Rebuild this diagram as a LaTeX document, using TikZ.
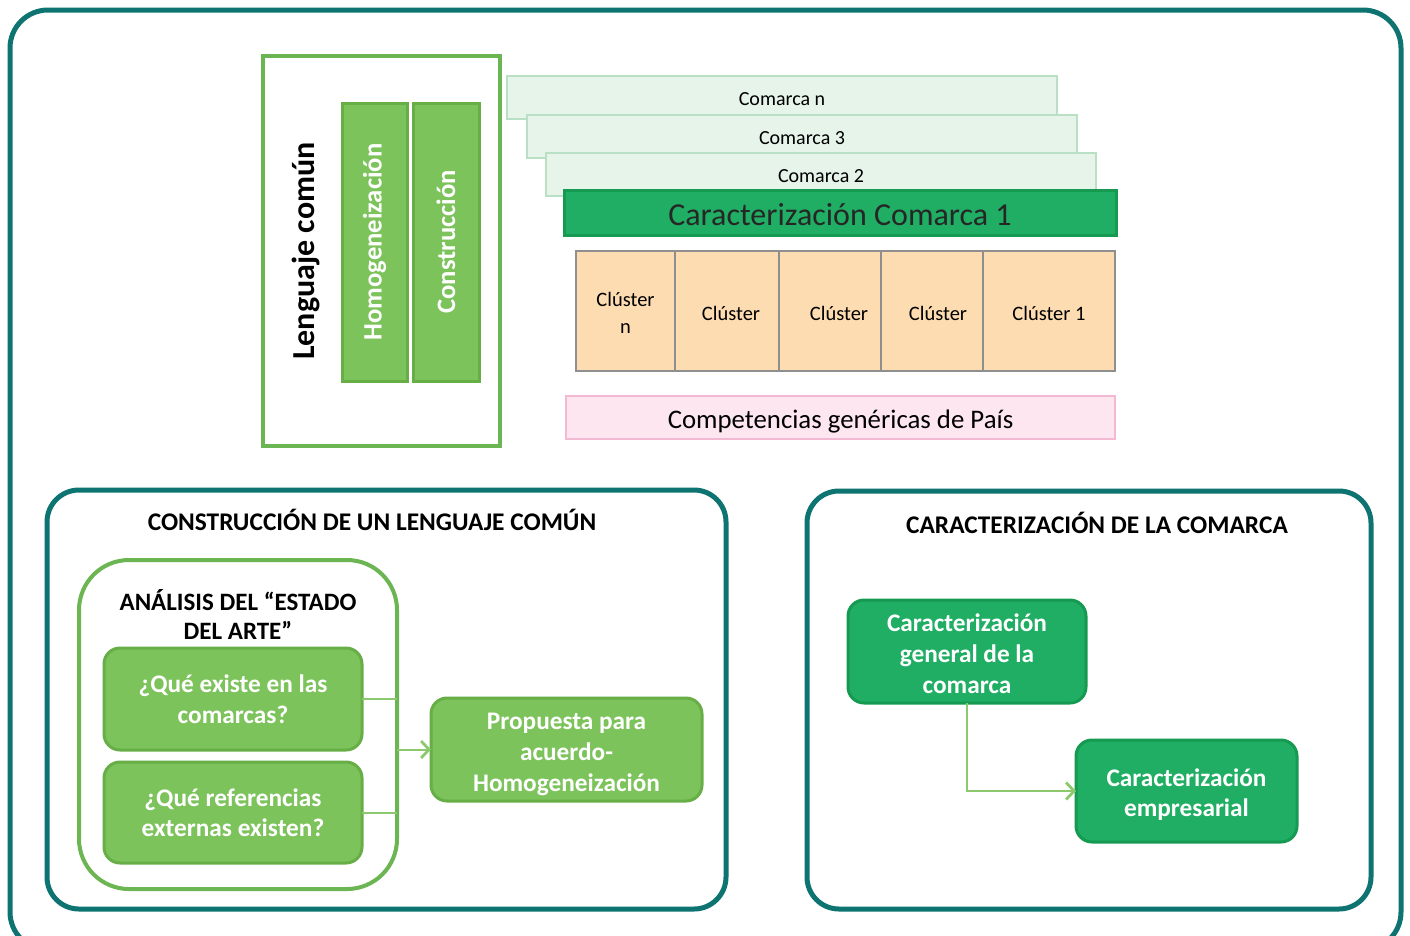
\documentclass[tikz,border=0pt]{standalone}
\usepackage{fontspec}
\setmainfont{Carlito}
\usetikzlibrary{arrows.meta}
\definecolor{frameteal}{HTML}{0E7471}
\definecolor{lgreen}{HTML}{7DC35C}
\definecolor{lgreenborder}{HTML}{67AE47}
\definecolor{outgreen}{HTML}{6BB552}
\definecolor{dgreen}{HTML}{1FAE63}
\definecolor{dgreenborder}{HTML}{169A52}
\definecolor{comfill}{HTML}{E6F4EA}
\definecolor{comborder}{HTML}{B9E0C4}
\definecolor{peach}{HTML}{FDDCB1}
\definecolor{cellborder}{HTML}{8F8F8F}
\definecolor{pinkfill}{HTML}{FDE6F0}
\definecolor{pinkborder}{HTML}{F3B8D2}
\definecolor{arrgreen}{HTML}{8CC96E}
\newcommand{\fsz}[2]{\fontsize{#1}{#2}\selectfont}
\tikzset{
  frame/.style={draw=frameteal, line width=5pt, rounded corners=38pt},
  panel/.style={draw=frameteal, line width=5pt, rounded corners=32pt},
  bar/.style={draw=lgreenborder, fill=lgreen, line width=3pt, inner sep=0pt, outer sep=0pt,
    text=white, font=\bfseries\fsz{26.6}{30}, rotate=90},
  comlayer/.style={draw=comborder, fill=comfill, line width=2pt, inner sep=0pt, outer sep=0pt,
    minimum width=550pt, minimum height=43pt},
  comtext/.style={font=\fsz{20}{24}, inner sep=0pt},
  cell/.style={draw=cellborder, fill=peach, line width=2pt, inner sep=0pt, outer sep=0pt, minimum height=120pt},
  celltext/.style={font=\fsz{20.5}{27}, align=center, inner sep=0pt},
  gbox/.style={draw=lgreenborder, fill=lgreen, line width=3pt, rounded corners=16pt, inner sep=0pt, outer sep=0pt},
  dbox/.style={draw=dgreenborder, fill=dgreen, line width=3pt, rounded corners=16pt, inner sep=0pt, outer sep=0pt},
  boxtext/.style={text=white, font=\bfseries\fsz{25.3}{30.5}, align=center, inner sep=0pt},
  title/.style={font=\bfseries\fsz{25.4}{29}, align=center, inner sep=0pt},
  conn/.style={draw=arrgreen, line width=2pt, -{Straight Barb[length=8pt,width=17pt,line width=2.8pt]}},
  connplain/.style={draw=arrgreen, line width=2pt},
}
\begin{document}
\begin{tikzpicture}[x=1pt,y=-1pt]
\useasboundingbox (0,0) rectangle (1410,935);
\fill[white] (0,0) rectangle (1410,935);
% outer frame
\draw[frame] (10,10) rectangle (1401,950);

% Lenguaje comun block
\node[draw=outgreen, line width=4pt, inner sep=0pt, outer sep=0pt, minimum width=237pt, minimum height=390pt] (lc) at (381.5,251) {};
\node[rotate=90, font=\bfseries\fsz{32}{36}, inner sep=0pt] (lctext) at (306,251) {Lenguaje común};
\node[bar, minimum width=278pt, minimum height=65pt] (homog) at (374.5,242) {Homogeneización};
\node[bar, minimum width=278pt, minimum height=66pt] (constr) at (446,242) {Construcción};

% Comarca layers
\node[comlayer] (comn) at (782,97) {};
\node[comtext] (comnt) at ([yshift=-2.5pt]comn.center) {Comarca n};
\node[comlayer] (com3) at (802,136) {};
\node[comtext] (com3t) at ([yshift=-2.5pt]com3.center) {Comarca 3};
\node[comlayer] (com2) at (821,174) {};
\node[comtext] (com2t) at ([yshift=-2.5pt]com2.center) {Comarca 2};
\node[draw=dgreenborder, fill=dgreen, line width=3pt, inner sep=0pt, outer sep=0pt, minimum width=552pt, minimum height=45pt] (com1) at (840,212.5) {};
\node[font=\fsz{32}{36}, text=black!85, inner sep=0pt] (com1t) at ([yshift=-2pt]com1.center) {Caracterización Comarca 1};

% Cluster cells
\node[cell, minimum width=99pt] (c1) at (625.5,311) {};
\node[cell, minimum width=104pt] (c2) at (727,311) {};
\node[cell, minimum width=102pt] (c3) at (830,311) {};
\node[cell, minimum width=102pt] (c4) at (932,311) {};
\node[cell, minimum width=132pt] (c5) at (1049,311) {};
\node[celltext] (t1) at (625.5,313) {Clúster\\n};
\node[celltext] (t2) at (731,313) {Clúster};
\node[celltext] (t3) at (839,313) {Clúster};
\node[celltext] (t4) at (938,313) {Clúster};
\node[celltext] (t5) at (1049,313) {Clúster 1};

% Competencias
\node[draw=pinkborder, fill=pinkfill, line width=2pt, inner sep=0pt, outer sep=0pt, minimum width=549pt, minimum height=43pt] (comp) at (840.5,417.5) {};
\node[font=\fsz{26.8}{30}, inner sep=0pt] (compt) at ([yshift=-3.5pt]comp.center) {Competencias genéricas de País};

% Bottom-left panel
\draw[panel] (47,490) rectangle (726,909);
\node[title] (tl) at (372,520) {CONSTRUCCIÓN DE UN LENGUAJE COMÚN};
\draw[draw=outgreen, line width=4pt, rounded corners=50pt] (79,560) rectangle (397,889);
\node[title, font=\bfseries\fsz{25}{29}] (an) at (238,614) {ANÁLISIS DEL “ESTADO\\DEL ARTE”};
\node[gbox, minimum width=258pt, minimum height=102pt] (q1) at (233,699) {};
\node[boxtext] (q1t) at (q1.center) {¿Qué existe en las\\comarcas?};
\node[gbox, minimum width=258pt, minimum height=101pt] (q2) at (233,812.5) {};
\node[boxtext] (q2t) at (q2.center) {¿Qué referencias\\externas existen?};
\node[gbox, minimum width=271pt, minimum height=103pt] (prop) at (566.5,749.5) {};
\node[boxtext, font=\bfseries\fsz{25.3}{31}] (propt) at ([yshift=-4.5pt]prop.center) {Propuesta para\\acuerdo-\\Homogeneización};
\draw[connplain] (q1.east) -- ++(35,0) coordinate (j1);
\draw[connplain] (q2.east) -- ++(35,0) coordinate (j2);
\draw[conn] (j1 |- prop.west) -- (prop.west);

% Bottom-right panel
\draw[panel] (807,491) rectangle (1371,909);
\node[title] (tr) at (1097,523) {CARACTERIZACIÓN DE LA COMARCA};
\node[dbox, minimum width=238pt, minimum height=103pt] (ga) at (967,651.5) {};
\node[boxtext, font=\bfseries\fsz{25.3}{31}] (gat) at ([yshift=-2pt]ga.center) {Caracterización\\general de la\\comarca};
\node[dbox, minimum width=221pt, minimum height=102pt] (gb) at (1186.5,791) {};
\node[boxtext, font=\bfseries\fsz{25.3}{30.5}] (gbt) at ([yshift=-3.5pt]gb.center) {Caracterización\\empresarial};
\draw[conn] (ga.south) |- (gb.west);
\end{tikzpicture}
\end{document}
